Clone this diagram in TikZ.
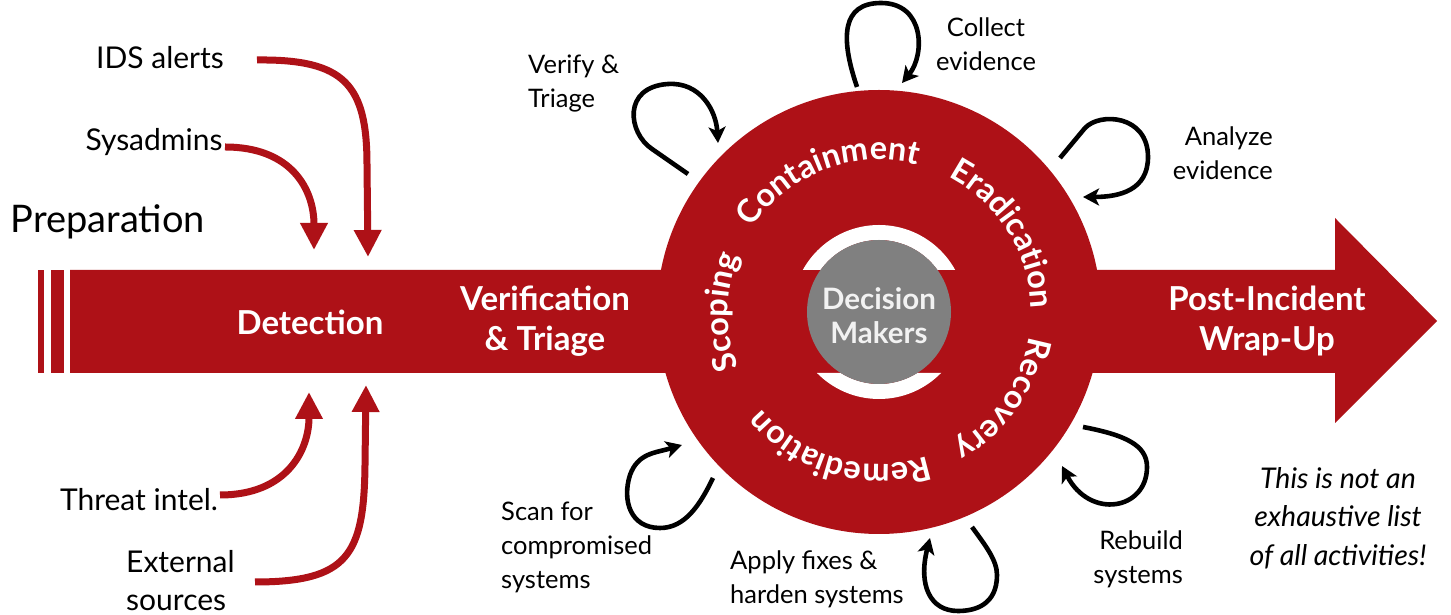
\documentclass[tikz,border=0pt]{standalone}
\usepackage{fontspec}
\setmainfont{Lato}
\usetikzlibrary{arrows.meta,decorations.text}
\definecolor{irred}{RGB}{174,17,23}
\definecolor{dmgray}{RGB}{128,128,128}
\definecolor{dmtext}{RGB}{242,242,242}
\begin{document}
\begin{tikzpicture}[x=1pt,y=1pt,
  lbl/.style={font=\fontsize{25.5}{34}\selectfont, inner sep=0pt},
  biglbl/.style={font=\fontsize{30}{38}\selectfont, inner sep=0pt},
  boldlbl/.style={font=\fontsize{33}{40}\selectfont\bfseries, text=white, inner sep=0pt, align=center},
  redarr/.style={draw=irred, line width=7pt, -{Triangle[width=26pt,length=27pt]}},
  cyc/.style={draw=black, line width=4.6pt, -{Stealth[width=17pt,length=16pt,inset=4pt]}},
  ringtxt/.style={decorate, decoration={text along path, text align=center,
     text={|\fontsize{32.5}{32}\selectfont\bfseries\color{white}|#1}}}
]
\useasboundingbox (0,0) rectangle (1451,615);
\fill[white] (0,0) rectangle (1451,615);

% main bar with arrow head
\fill[irred] (70,242) -- (1335,242) -- (1335,192) -- (1437,294) -- (1335,397) -- (1335,345) -- (70,345) -- cycle;
\fill[irred] (38,242) rectangle (44,345);
\fill[irred] (51,242) rectangle (64,345);

% central wheel
\coordinate (C) at (879,303);
\fill[irred] (C) circle[radius=222];
\begin{scope}
  \clip (600,0) rectangle (1200,242) (600,345) rectangle (1200,615);
  \fill[white, even odd rule] (C) circle[radius=87] (C) circle[radius=72];
\end{scope}
\fill[dmgray] (C) circle[radius=72];
\node[font=\fontsize{29.5}{34}\selectfont\bfseries, text=dmtext, align=center, inner sep=0pt] (dm) at (879,299) {Decision\\Makers};

% ring texts
\path[ringtxt=Scoping] ([shift={(240:151)}]C) arc[start angle=240, end angle=120, radius=151];
\path[ringtxt=Containment] ([shift={(171:152)}]C) arc[start angle=171, end angle=51, radius=152];
\path[ringtxt=Eradication] ([shift={(92:152)}]C) arc[start angle=92, end angle=-28, radius=152];
\path[ringtxt=Recovery] ([shift={(25:152)}]C) arc[start angle=25, end angle=-95, radius=152];
\path[ringtxt=Remediation] ([shift={(-46:152)}]C) arc[start angle=-46, end angle=-166, radius=152];

% bar labels
\node[boldlbl] (det) at (310,293) {Detection};
\node[boldlbl] (ver) at (545,294) {Verification\\\& Triage};
\node[boldlbl] (post) at (1267,294) {Post-Incident\\Wrap-Up};

% left labels
\node[font=\fontsize{38}{40}\selectfont, inner sep=0pt] (prep) at (108,393) {Preparation};
\node[biglbl] (ids) at (160,557) {IDS alerts};
\node[biglbl] (sys) at (154,473) {Sysadmins};
\node[biglbl] (thr) at (139,115) {Threat intel.};
\node[biglbl, anchor=west, align=left] (ext) at (126,34) {External\\sources};

% red input arrows
\coordinate (idsS) at (257,555);
\coordinate (idsT) at (368,358);
\coordinate (sysS) at (225,468);
\coordinate (sysT) at (314,365);
\coordinate (thrS) at (220,120);
\coordinate (thrT) at (309,223);
\coordinate (extS) at (255,33);
\coordinate (extT) at (366,230);
\draw[redarr] (idsS) .. controls (345,556) and (367,530) .. (367,450) -- (idsT);
\draw[redarr] (sysS) .. controls (292,468) and (314,425) .. (sysT);
\draw[redarr] (thrS) .. controls (287,120) and (309,165) .. (thrT);
\draw[redarr] (extS) .. controls (348,33) and (364,60) .. (365,150) -- (extT);

% activity labels
\node[lbl, anchor=west, align=left] (verify) at (528,531) {Verify \&\\Triage};
\node[lbl, align=center] (collect) at (986,571) {Collect\\evidence};
\node[lbl, anchor=east, align=right] (analyze) at (1273,462) {Analyze\\evidence};
\node[lbl, anchor=west, align=left] (scan) at (501,68) {Scan for\\compromised\\systems};
\node[lbl, anchor=west, align=left] (apply) at (730,36) {Apply fixes \&\\harden systems};
\node[lbl, anchor=east, align=right] (rebuild) at (1183,56) {Rebuild\\systems};
\node[font=\fontsize{28.5}{38.5}\selectfont\itshape, align=center, inner sep=0pt] (note) at (1338,97) {This is not an\\exhaustive list\\of all activities!};

% loop arrows
\coordinate (vS) at (688,441); \coordinate (vT) at (718,472);
\draw[cyc] (vS) -- (652,466) .. controls (628,482) and (622,528) .. (668,531) .. controls (700,533) and (716,505) .. (vT);
\coordinate (cS) at (857,528); \coordinate (cT) at (902,532);
\draw[cyc] (cS) .. controls (840,578) and (842,612) .. (881,612) .. controls (925,612) and (925,560) .. (cT);
\coordinate (aS) at (1060,457); \coordinate (aT) at (1083,418);
\draw[cyc] (aS) -- (1085,487) .. controls (1100,503) and (1148,500) .. (1148,458) .. controls (1148,425) and (1120,418) .. (aT);
\coordinate (rS) at (1083,188); \coordinate (rT) at (1062,149);
\draw[cyc] (rS) .. controls (1125,180) and (1147,170) .. (1147,148) .. controls (1147,105) and (1090,95) .. (rT);
\coordinate (pS) at (972,88); \coordinate (pT) at (930,77);
\draw[cyc] (pS) .. controls (985,70) and (997,55) .. (997,40) .. controls (997,10) and (975,4) .. (958,4) .. controls (930,4) and (918,30) .. (pT);
\coordinate (sS) at (713,137); \coordinate (sT) at (682,170);
\draw[cyc] (sS) .. controls (700,110) and (685,87) .. (660,87) .. controls (630,87) and (622,115) .. (630,140) .. controls (638,162) and (655,162) .. (sT);
\end{tikzpicture}
\end{document}
